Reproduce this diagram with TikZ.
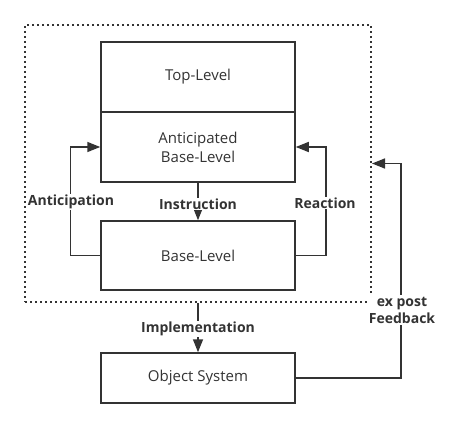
\documentclass[tikz,border=0pt]{standalone}
\usepackage{fontspec}
\setmainfont{Open Sans}
\usetikzlibrary{arrows.meta}
\definecolor{lc}{HTML}{333333}
\begin{document}
\begin{tikzpicture}[x=1pt,y=-1pt,
  box/.style={draw=lc,line width=1.5pt,minimum width=194pt,inner sep=0pt,text=lc,font=\fontsize{15}{19}\selectfont,align=center},
  conn/.style={draw=lc,line width=1.5pt,-{Triangle[length=13pt,width=10pt]}},
  lab/.style={fill=white,text=lc,font=\bfseries\fontsize{14}{17}\selectfont,inner sep=1pt,align=center}]
\useasboundingbox (0,0) rectangle (452,428);
\node[box,minimum height=70pt] (top) at (198,77) {Top-Level};
\node[box,minimum height=70pt] (ant) at (198,147) {Anticipated\\Base-Level};
\node[box,minimum height=69pt] (base) at (198,255.5) {Base-Level};
\node[box,minimum height=50pt] (obj) at (198,378) {Object System};
\node[draw=lc,line width=2pt,dash pattern=on 2pt off 3pt,minimum width=346pt,minimum height=277pt,inner sep=0pt] (frame) at (198,163.5) {};
% connectors
\draw[conn] (base.west) -- ++(-30,0) |- (ant.west);
\draw[conn] (base.east) -- ++(30,0) |- (ant.east);
\draw[conn] (ant.south) -- (base.north);
\draw[conn] (frame.south) -- (obj.north);
\coordinate (fb) at (401,163.5);
\draw[conn] (obj.east) -| (fb) -- (frame.east);
% labels
\node[lab] (lA) at (71,202) {Anticipation};
\node[lab] (lI) at (198,204) {Instruction};
\node[lab] (lR) at (325,203) {Reaction};
\node[lab] (lM) at (198,329) {Implementation};
\node[lab,inner sep=2pt] (lF) at (402,310) {ex post\\Feedback};
\end{tikzpicture}
\end{document}
